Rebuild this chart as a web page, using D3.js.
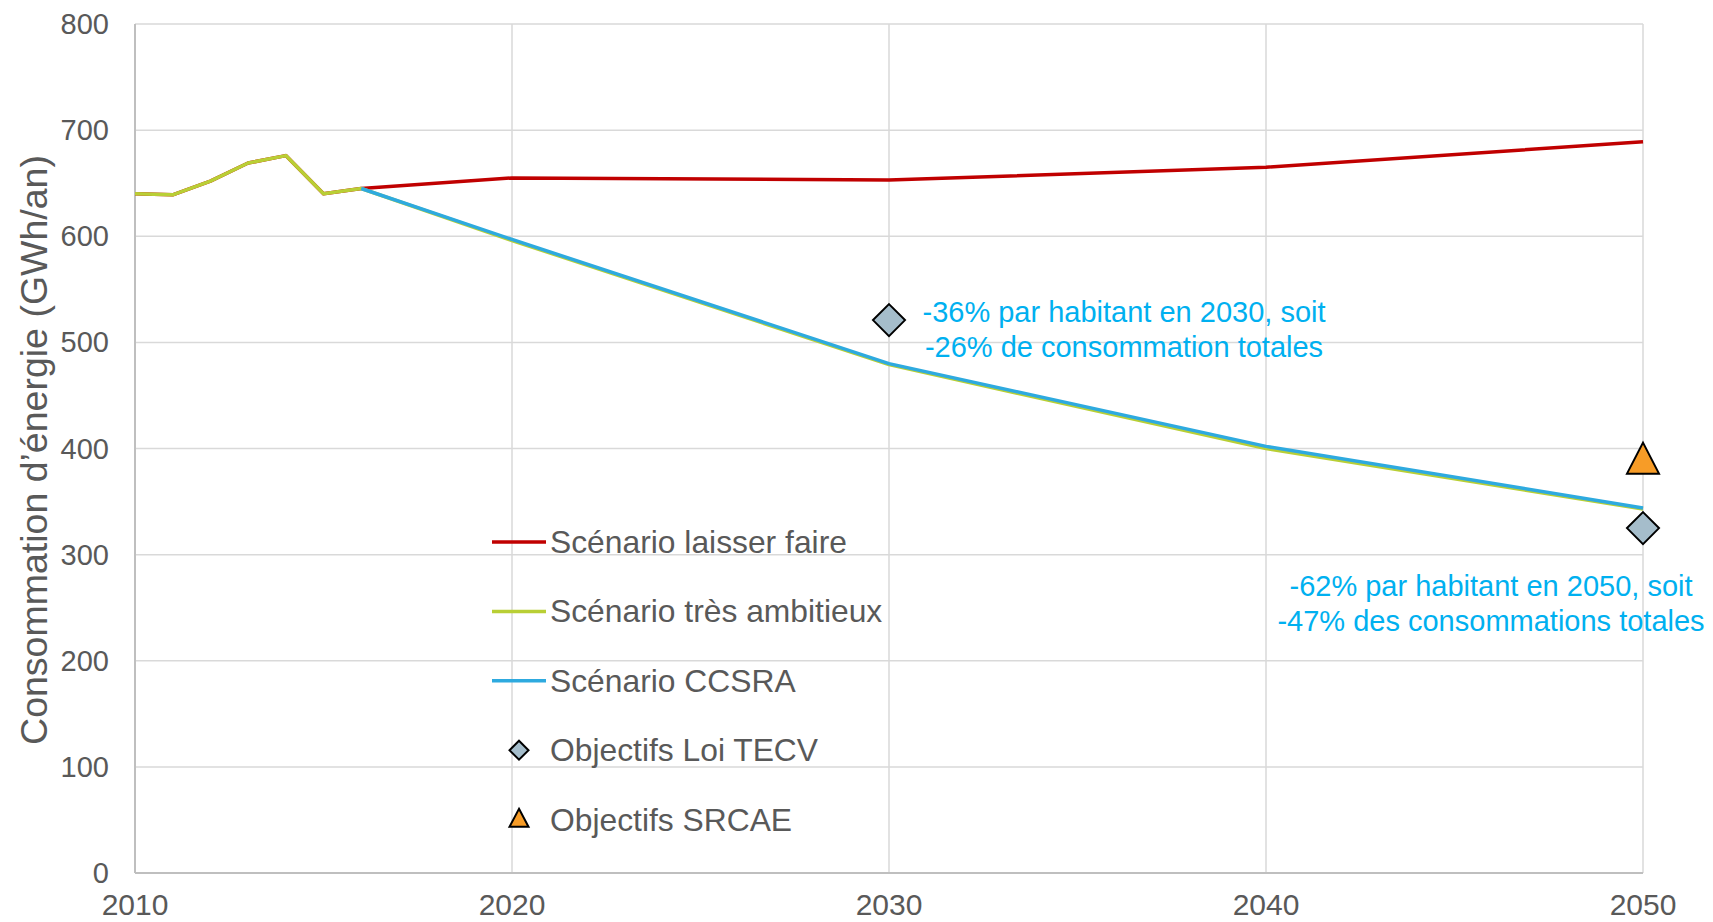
<!DOCTYPE html>
<html>
<head>
<meta charset="utf-8">
<script src="https://cdn.jsdelivr.net/npm/d3@7"></script>
<style>
  body { margin: 0; background: #fff; }
  svg { display: block; font-family: "Liberation Sans", Arial, sans-serif; }
</style>
</head>
<body>
<svg id="chart" width="1713" height="922"></svg>
<script>
// données
var histYears = [2010, 2011, 2012, 2013, 2014, 2015, 2016];
var histValues = [640, 639, 652, 669, 676, 640, 645];
var scenYears = [2016, 2020, 2030, 2040, 2050];
var laisserFaire = [645, 655, 653, 665, 689];
var tresAmbitieux = [645, 596, 479, 400, 343];
var ccsra = [645, 597, 480, 402, 344];
var tecvYears = [2030, 2050];
var tecvValues = [521, 325];
var srcaeYears = [2050];
var srcaeValues = [388];
var yTicks = [0, 100, 200, 300, 400, 500, 600, 700, 800];
var xTicks = [2010, 2020, 2030, 2040, 2050];

var grey = "#595959";
var svg = d3.select("#chart");
var pLeft = 135, pRight = 1643, pTop = 24, pBottom = 873;

var x = d3.scaleLinear().domain([2010, 2050]).range([pLeft, pRight]);
var y = d3.scaleLinear().domain([0, 800]).range([pBottom, pTop]);

// grille
svg.append("g").selectAll("line").data(yTicks.slice(1)).enter().append("line")
  .attr("x1", pLeft).attr("x2", pRight)
  .attr("y1", function(d) { return y(d); }).attr("y2", function(d) { return y(d); })
  .attr("stroke", "#d9d9d9").attr("stroke-width", 1.5);
svg.append("g").selectAll("line").data(xTicks.slice(1)).enter().append("line")
  .attr("x1", function(d) { return x(d); }).attr("x2", function(d) { return x(d); })
  .attr("y1", pTop).attr("y2", pBottom)
  .attr("stroke", "#d9d9d9").attr("stroke-width", 1.5);

// axes
svg.append("line").attr("x1", pLeft).attr("x2", pLeft).attr("y1", pTop).attr("y2", pBottom)
  .attr("stroke", "#bfbfbf").attr("stroke-width", 2);
svg.append("line").attr("x1", pLeft).attr("x2", pRight).attr("y1", pBottom).attr("y2", pBottom)
  .attr("stroke", "#bfbfbf").attr("stroke-width", 2);

svg.append("g").selectAll("text").data(yTicks).enter().append("text")
  .attr("x", pLeft - 26).attr("y", function(d) { return y(d) + 10; })
  .attr("text-anchor", "end").attr("font-size", 29).attr("fill", grey)
  .text(function(d) { return d; });
svg.append("g").selectAll("text").data(xTicks).enter().append("text")
  .attr("x", function(d) { return x(d); }).attr("y", 915)
  .attr("text-anchor", "middle").attr("font-size", 30).attr("fill", grey)
  .text(function(d) { return d; });

svg.append("text")
  .attr("transform", "translate(47,450) rotate(-90)")
  .attr("text-anchor", "middle").attr("font-size", 37.5).attr("fill", grey)
  .text("Consommation d\u2019énergie (GWh/an)");

// séries
var line = d3.line().x(function(d) { return x(d[0]); }).y(function(d) { return y(d[1]); });
function pts(xs, vs) { return xs.map(function(v, i) { return [v, vs[i]]; }); }
var histPts = pts(histYears, histValues);

var series = [
  { name: "Scénario laisser faire", color: "#c00000", data: histPts.concat(pts(scenYears, laisserFaire).slice(1)) },
  { name: "Scénario très ambitieux", color: "#b9cf35", data: histPts.concat(pts(scenYears, tresAmbitieux).slice(1)) },
  { name: "Scénario CCSRA", color: "#2eaadf", data: pts(scenYears, ccsra) }
];
svg.append("g").selectAll("path").data(series).enter().append("path")
  .attr("d", function(d) { return line(d.data); })
  .attr("fill", "none").attr("stroke", function(d) { return d.color; })
  .attr("stroke-width", 3.5).attr("stroke-linejoin", "round");

function diamondPath(half) {
  return "M0," + (-half) + "L" + half + ",0L0," + half + "L" + (-half) + ",0Z";
}
function trianglePath(w, h) {
  return "M0," + (-h * 0.6) + "L" + (w / 2) + "," + (h * 0.4) + "L" + (-w / 2) + "," + (h * 0.4) + "Z";
}
svg.append("g").selectAll("path").data(pts(tecvYears, tecvValues)).enter().append("path")
  .attr("transform", function(d) { return "translate(" + x(d[0]) + "," + y(d[1]) + ")"; })
  .attr("d", diamondPath(16)).attr("fill", "#a5bdcb").attr("stroke", "#000").attr("stroke-width", 2);
svg.append("g").selectAll("path").data(pts(srcaeYears, srcaeValues)).enter().append("path")
  .attr("transform", function(d) { return "translate(" + x(d[0]) + "," + y(d[1]) + ")"; })
  .attr("d", trianglePath(32, 31)).attr("fill", "#f79c27").attr("stroke", "#000").attr("stroke-width", 2);

// annotations
var cyan = "#00b0f0";
var notes = [
  { cx: 1124, y: 322, lines: ["-36% par habitant en 2030, soit", "-26% de consommation totales"] },
  { cx: 1491, y: 596, lines: ["-62% par habitant en 2050, soit", "-47% des consommations totales"] }
];
notes.forEach(function(n) {
  n.lines.forEach(function(t, i) {
    svg.append("text").attr("x", n.cx).attr("y", n.y + i * 35)
      .attr("text-anchor", "middle").attr("font-size", 29).attr("fill", cyan).text(t);
  });
});

// légende
var legend = [
  { name: "Scénario laisser faire", type: "line", color: "#c00000" },
  { name: "Scénario très ambitieux", type: "line", color: "#b9cf35" },
  { name: "Scénario CCSRA", type: "line", color: "#2eaadf" },
  { name: "Objectifs Loi TECV", type: "diamond" },
  { name: "Objectifs SRCAE", type: "triangle" }
];
var lg = svg.append("g").selectAll("g").data(legend).enter().append("g")
  .attr("transform", function(d, i) { return "translate(492," + (542 + i * 69.4) + ")"; });
lg.filter(function(d) { return d.type === "line"; }).append("line")
  .attr("x1", 0).attr("x2", 54).attr("stroke", function(d) { return d.color; }).attr("stroke-width", 3.5);
lg.filter(function(d) { return d.type === "diamond"; }).append("path")
  .attr("transform", "translate(27,0)").attr("d", diamondPath(9.5))
  .attr("fill", "#a5bdcb").attr("stroke", "#000").attr("stroke-width", 2);
lg.filter(function(d) { return d.type === "triangle"; }).append("path")
  .attr("transform", "translate(27,0)").attr("d", trianglePath(19, 18))
  .attr("fill", "#f79c27").attr("stroke", "#000").attr("stroke-width", 2);
lg.append("text").attr("x", 58).attr("y", 11).attr("font-size", 31.8).attr("fill", grey)
  .text(function(d) { return d.name; });
</script>
</body>
</html>
